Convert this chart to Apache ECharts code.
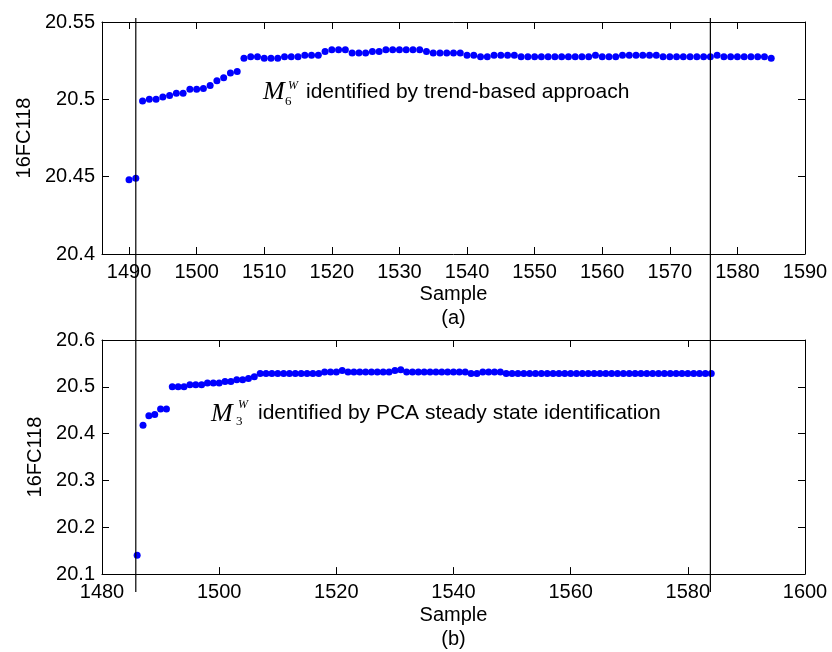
<!DOCTYPE html>
<html>
<head>
<meta charset="utf-8">
<script src="https://cdn.jsdelivr.net/npm/echarts@6/dist/echarts.min.js"></script>
<style>html,body{margin:0;padding:0;background:#fff}#c{width:832px;height:652px}</style>
</head>
<body>
<div id="c"></div>
<script>
// ---- data: panel (a) trend-based approach ----
const topSamples = [1490,1491,1492,1493,1494,1495,1496,1497,1498,1499,1500,1501,1502,1503,1504,1505,1506,1507,1508,1509,1510,1511,1512,1513,1514,1515,1516,1517,1518,1519,1520,1521,1522,1523,1524,1525,1526,1527,1528,1529,1530,1531,1532,1533,1534,1535,1536,1537,1538,1539,1540,1541,1542,1543,1544,1545,1546,1547,1548,1549,1550,1551,1552,1553,1554,1555,1556,1557,1558,1559,1560,1561,1562,1563,1564,1565,1566,1567,1568,1569,1570,1571,1572,1573,1574,1575,1576,1577,1578,1579,1580,1581,1582,1583,1584,1585];
const topValues = [20.448,20.449,20.499,20.500,20.500,20.5015,20.5025,20.504,20.504,20.5065,20.5065,20.507,20.509,20.512,20.514,20.517,20.518,20.5265,20.5275,20.5275,20.5265,20.5265,20.5265,20.5275,20.5275,20.5275,20.5285,20.5285,20.5285,20.531,20.532,20.532,20.532,20.530,20.530,20.530,20.531,20.531,20.532,20.532,20.532,20.532,20.532,20.532,20.531,20.530,20.530,20.530,20.530,20.530,20.5285,20.5285,20.5275,20.5275,20.5285,20.5285,20.5285,20.5285,20.5275,20.5275,20.5275,20.5275,20.5275,20.5275,20.5275,20.5275,20.5275,20.5275,20.5275,20.5285,20.5275,20.5275,20.5275,20.5285,20.5285,20.5285,20.5285,20.5285,20.5285,20.5275,20.5275,20.5275,20.5275,20.5275,20.5275,20.5275,20.5275,20.5285,20.5275,20.5275,20.5275,20.5275,20.5275,20.5275,20.5275,20.5265];
const topXTicks = [1490,1500,1510,1520,1530,1540,1550,1560,1570,1580,1590];
const topYTicks = [20.4,20.45,20.5,20.55];
const topBounds = [1491,1576];

// ---- data: panel (b) PCA steady state identification ----
const botSamples = [1486,1487,1488,1489,1490,1491,1492,1493,1494,1495,1496,1497,1498,1499,1500,1501,1502,1503,1504,1505,1506,1507,1508,1509,1510,1511,1512,1513,1514,1515,1516,1517,1518,1519,1520,1521,1522,1523,1524,1525,1526,1527,1528,1529,1530,1531,1532,1533,1534,1535,1536,1537,1538,1539,1540,1541,1542,1543,1544,1545,1546,1547,1548,1549,1550,1551,1552,1553,1554,1555,1556,1557,1558,1559,1560,1561,1562,1563,1564,1565,1566,1567,1568,1569,1570,1571,1572,1573,1574,1575,1576,1577,1578,1579,1580,1581,1582,1583,1584];
const botValues = [20.140,20.418,20.438,20.441,20.4525,20.4525,20.500,20.500,20.500,20.5045,20.5045,20.5045,20.508,20.508,20.508,20.5115,20.5115,20.515,20.515,20.518,20.5215,20.5285,20.5285,20.5285,20.5285,20.5285,20.5285,20.5285,20.5285,20.5285,20.5285,20.5285,20.5315,20.5315,20.5315,20.535,20.5315,20.5315,20.5315,20.5315,20.5315,20.5315,20.5315,20.5315,20.535,20.5365,20.5315,20.5315,20.5315,20.5315,20.5315,20.5315,20.5315,20.5315,20.5315,20.5315,20.5315,20.5285,20.5285,20.5315,20.5315,20.5315,20.5315,20.5285,20.5285,20.5285,20.5285,20.5285,20.5285,20.5285,20.5285,20.5285,20.5285,20.5285,20.5285,20.5285,20.5285,20.5285,20.5285,20.5285,20.5285,20.5285,20.5285,20.5285,20.5285,20.5285,20.5285,20.5285,20.5285,20.5285,20.5285,20.5285,20.5285,20.5285,20.5285,20.5285,20.5285,20.5285,20.5285];
const botXTicks = [1480,1500,1520,1540,1560,1580,1600];
const botYTicks = [20.1,20.2,20.3,20.4,20.5,20.6];

const xLabel = 'Sample';
const yLabel = '16FC118';
const textTop = 'identified by trend-based approach';
const textBot = 'identified by PCA steady state identification';

// ---- chart ----
const FONT = 'Liberation Sans, Arial, Helvetica, sans-serif';
const SERIF = 'Liberation Serif, Times New Roman, serif';
const BLK = '#000';

function zip(a, b) { return a.map((v, i) => [v, b[i]]); }
const plain = v => String(v);

function mainX(grid, min, max, ticks, name) {
  return {
    type: 'value', gridIndex: grid, min: min, max: max, position: 'bottom',
    axisLine: { onZero: false, lineStyle: { color: BLK, width: 1 } },
    axisTick: { inside: true, length: 7, customValues: ticks, lineStyle: { color: BLK } },
    axisLabel: { customValues: ticks, formatter: plain, color: BLK, fontSize: 20, fontFamily: FONT, margin: 8 },
    splitLine: { show: false },
    name: name, nameLocation: 'middle', nameGap: 26,
    nameTextStyle: { color: BLK, fontSize: 20, fontFamily: FONT, lineHeight: 24 }
  };
}
function mirrorX(grid, min, max, ticks) {
  return {
    type: 'value', gridIndex: grid, min: min, max: max, position: 'top',
    axisLine: { onZero: false, lineStyle: { color: BLK, width: 1 } },
    axisTick: { inside: true, length: 7, customValues: ticks, lineStyle: { color: BLK } },
    axisLabel: { show: false }, splitLine: { show: false }
  };
}
function mainY(grid, min, max, ticks, gap) {
  return {
    type: 'value', gridIndex: grid, min: min, max: max, position: 'left',
    axisLine: { onZero: false, lineStyle: { color: BLK, width: 1 } },
    axisTick: { inside: true, length: 7, customValues: ticks, lineStyle: { color: BLK } },
    axisLabel: { customValues: ticks, formatter: plain, color: BLK, fontSize: 20, fontFamily: FONT, margin: 7 },
    splitLine: { show: false },
    name: yLabel, nameLocation: 'middle', nameGap: gap, nameRotate: 90,
    nameTextStyle: { color: BLK, fontSize: 20, fontFamily: FONT }
  };
}
function mirrorY(grid, min, max, ticks) {
  return {
    type: 'value', gridIndex: grid, min: min, max: max, position: 'right',
    axisLine: { onZero: false, lineStyle: { color: BLK, width: 1 } },
    axisTick: { inside: true, length: 7, customValues: ticks, lineStyle: { color: BLK } },
    axisLabel: { show: false }, splitLine: { show: false }
  };
}

const chart = echarts.init(document.getElementById('c'), null, { renderer: 'canvas' });

const vlineSeries = topBounds.map(b => ({
  type: 'line', xAxisIndex: 4, yAxisIndex: 4, data: [[b, 0], [b, 1]],
  symbol: 'none', lineStyle: { color: BLK, width: 1.2 }, silent: true, z: 5, animation: false
}));

chart.setOption({
  animation: false,
  backgroundColor: '#fff',
  grid: [
    { left: 102, top: 22, width: 703, height: 232 },
    { left: 102, top: 340, width: 703, height: 235 },
    { left: 102, top: 18, width: 703, height: 574 }
  ],
  xAxis: [
    mainX(0, 1486, 1590, topXTicks, xLabel + '\n(a)'),
    mirrorX(0, 1486, 1590, topXTicks),
    mainX(1, 1480, 1600, botXTicks, xLabel + '\n(b)'),
    mirrorX(1, 1480, 1600, botXTicks),
    { type: 'value', gridIndex: 2, min: 1486, max: 1590, show: false }
  ],
  yAxis: [
    mainY(0, 20.4, 20.55, topYTicks, 60),
    mirrorY(0, 20.4, 20.55, topYTicks),
    mainY(1, 20.1, 20.6, botYTicks, 54),
    mirrorY(1, 20.1, 20.6, botYTicks),
    { type: 'value', gridIndex: 2, min: 0, max: 1, show: false }
  ],
  series: [
    { type: 'scatter', xAxisIndex: 0, yAxisIndex: 0, data: zip(topSamples, topValues),
      symbol: 'circle', symbolSize: 7, itemStyle: { color: '#0000ff', opacity: 1 }, z: 3 },
    { type: 'scatter', xAxisIndex: 2, yAxisIndex: 2, data: zip(botSamples, botValues),
      symbol: 'circle', symbolSize: 7, itemStyle: { color: '#0000ff', opacity: 1 }, z: 3 }
  ].concat(vlineSeries),
  graphic: [
    { type: 'text', left: 263, top: 79, style: { text: 'M', font: 'italic 26px ' + SERIF, fill: BLK } },
    { type: 'text', left: 288, top: 80, style: { text: 'W', font: 'italic 12px ' + SERIF, fill: BLK } },
    { type: 'text', left: 285, top: 95, style: { text: '6', font: '13px ' + SERIF, fill: BLK } },
    { type: 'text', left: 306, top: 82, style: { text: textTop, font: '21px ' + FONT, fill: BLK } },
    { type: 'text', left: 211, top: 401, style: { text: 'M', font: 'italic 26px ' + SERIF, fill: BLK } },
    { type: 'text', left: 238, top: 399, style: { text: 'W', font: 'italic 12px ' + SERIF, fill: BLK } },
    { type: 'text', left: 236, top: 415, style: { text: '3', font: '13px ' + SERIF, fill: BLK } },
    { type: 'text', left: 258, top: 403, style: { text: textBot, font: '21px ' + FONT, fill: BLK } }
  ]
});
</script>
</body>
</html>
